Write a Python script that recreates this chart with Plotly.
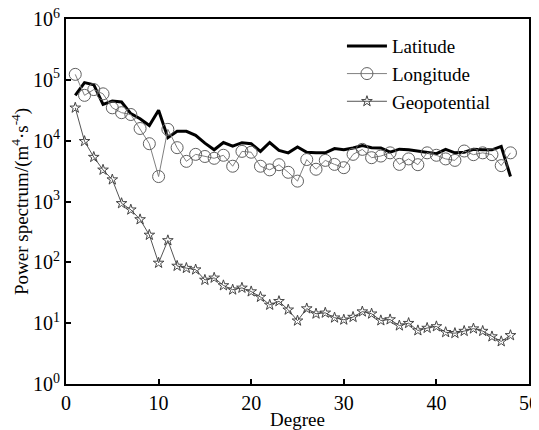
import plotly.graph_objects as go

degree = list(range(1, 49))

lat_log = [4.745, 4.954, 4.92, 4.597, 4.65, 4.635, 4.444, 4.36, 4.25, 4.50,
           4.05, 4.153, 4.153, 4.087, 3.96, 3.85, 3.97, 3.91, 3.967, 3.95,
           3.824, 3.97, 3.84, 3.80, 3.895, 3.81, 3.80, 3.80, 3.87, 3.85,
           3.88, 3.92, 3.885, 3.88, 3.81, 3.86, 3.85, 3.83, 3.80, 3.786,
           3.857, 3.80, 3.81, 3.857, 3.85, 3.85, 3.906, 3.41]
lon_log = [5.09, 4.745, 4.84, 4.77, 4.54, 4.46, 4.43, 4.20, 3.95, 3.41,
           4.186, 3.885, 3.66, 3.775, 3.74, 3.71, 3.76, 3.58, 3.824, 3.81,
           3.58, 3.52, 3.605, 3.48, 3.335, 3.69, 3.53, 3.676, 3.61, 3.556,
           3.775, 3.857, 3.72, 3.747, 3.80, 3.61, 3.70, 3.605, 3.80, 3.76,
           3.70, 3.676, 3.83, 3.77, 3.80, 3.77, 3.59, 3.80]
geo_log = [4.54, 3.99, 3.73, 3.52, 3.36, 2.97, 2.865, 2.705, 2.45, 1.99,
           2.36, 1.94, 1.905, 1.88, 1.71, 1.745, 1.62, 1.55, 1.58, 1.52,
           1.43, 1.30, 1.36, 1.22, 1.04, 1.24, 1.155, 1.17, 1.09, 1.056,
           1.10, 1.19, 1.155, 1.044, 1.06, 0.96, 1.00, 0.88, 0.92, 0.946,
           0.85, 0.835, 0.87, 0.91, 0.87, 0.78, 0.70, 0.80]

latitude = [10 ** v for v in lat_log]
longitude = [10 ** v for v in lon_log]
geopotential = [10 ** v for v in geo_log]

ytick_vals = [1, 10, 100, 1000, 10000, 100000, 1000000]
ytick_text = ["10<sup>%d</sup>" % i for i in range(7)]
xtick_vals = [0, 10, 20, 30, 40, 50]

font_family = "Liberation Serif, Times New Roman, serif"

fig = go.Figure()
fig.add_trace(go.Scatter(
    x=degree, y=latitude, name="Latitude", mode="lines",
    line=dict(color="black", width=3)))
fig.add_trace(go.Scatter(
    x=degree, y=longitude, name="Longitude", mode="lines+markers",
    line=dict(color="#808080", width=1),
    marker=dict(symbol="circle-open", size=12, color="#606060",
                line=dict(width=1, color="#606060"))))
fig.add_trace(go.Scatter(
    x=degree, y=geopotential, name="Geopotential", mode="lines+markers",
    line=dict(color="#555555", width=1),
    marker=dict(symbol="star-open", size=8, color="#444444",
                line=dict(width=1, color="#444444"))))

# page body has an 8px margin, so the figure is sized to fit the window
fig.update_layout(
    width=531, height=422,
    margin=dict(l=58, r=10, t=11, b=46),
    paper_bgcolor="white", plot_bgcolor="white",
    font=dict(family=font_family, size=19, color="black"),
    showlegend=True,
    legend=dict(x=0.596, y=0.978, xanchor="left", yanchor="top",
                bgcolor="rgba(0,0,0,0)", font=dict(size=19),
                tracegroupgap=0, itemwidth=40),
)
fig.update_xaxes(
    range=[0, 50], tickvals=xtick_vals, ticks="inside", ticklen=5,
    tickwidth=1.5, tickcolor="black",
    showline=True, linecolor="black", linewidth=2, mirror=True,
    showgrid=False, zeroline=False, automargin=False,
    ticklabeloverflow="allow",
    tickfont=dict(size=20),
    title=dict(text="Degree", font=dict(size=19), standoff=0),
)
fig.update_yaxes(
    type="log", range=[0, 6], tickvals=ytick_vals, ticktext=ytick_text,
    ticks="inside", ticklen=5, tickwidth=1.5, tickcolor="black",
    showline=True, linecolor="black", linewidth=2, mirror=True,
    showgrid=False, zeroline=False, automargin=False,
    ticklabeloverflow="allow",
    tickfont=dict(size=20),
    title=dict(text="Power spectrum/(m<sup>4</sup>·s<sup>-4</sup>)",
               font=dict(size=19), standoff=2),
)

fig.write_html("out.html")
